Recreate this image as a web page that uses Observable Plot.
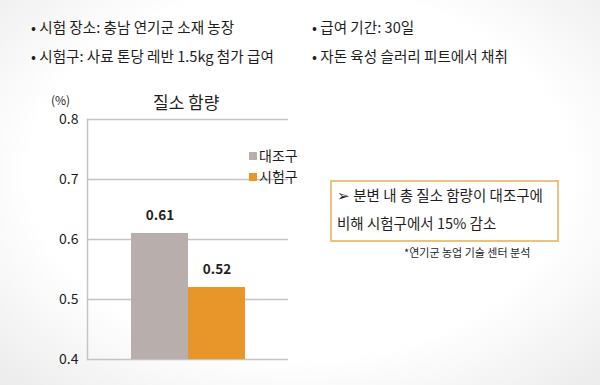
<!DOCTYPE html>
<html><head><meta charset="utf-8">
<script src="https://cdn.jsdelivr.net/npm/d3@7"></script>
<script src="https://cdn.jsdelivr.net/npm/@observablehq/plot@0.6"></script>
<style>
html,body{margin:0;padding:0;}
body{width:600px;height:385px;overflow:hidden;font-family:"Noto Sans CJK KR","Noto Sans",sans-serif;color:#1e1e1e;
background:radial-gradient(ellipse 75% 80% at 50% 45%, #ffffff 60%, #e9e9e9 100%);}
#wrap{position:relative;width:600px;height:385px;}
#chart{position:absolute;left:0;top:0;}
.t{position:absolute;white-space:nowrap;font-size:14px;line-height:1;}
#box{position:absolute;left:330px;top:180px;width:225px;height:58px;border:2px solid #ecc283;background:#fff;}
</style></head>
<body><div id="wrap"><div id="chart"></div></div>
<script>
const categories = ["대조구", "시험구"];
const values = [0.61, 0.52];
const colors = ["#b8aeac", "#e8952a"];
const yTicks = [0.4, 0.5, 0.6, 0.7, 0.8];
const notes = ["• 시험 장소: 충남 연기군 소재 농장", "• 시험구: 사료 톤당 레반 1.5kg 첨가 급여", "• 급여 기간: 30일", "• 자돈 육성 슬러리 피트에서 채취"];
const chartTitle = "질소 함량";
const unit = "(%)";
const boxLines = ["➢ 분변 내 총 질소 함량이 대조구에", "비해 시험구에서 15% 감소"];
const source = "*연기군 농업 기술 센터 분석";

const data = categories.map((c, i) => ({category: c, value: values[i]}));

const plot = Plot.plot({
  width: 600, height: 385,
  marginLeft: 87, marginRight: 312, marginTop: 119, marginBottom: 26,
  style: {background: "transparent", fontFamily: "'Noto Sans CJK KR', sans-serif"},
  x: {domain: categories, range: [130, 245], padding: 0, axis: null},
  y: {domain: [0.4, 0.8], ticks: yTicks, tickFormat: d3.format(".1f")},
  color: {domain: categories, range: colors},
  marks: [
    Plot.ruleY(yTicks, {stroke: "#c4c4c4", strokeWidth: 1.5}),
    Plot.frame({anchor: "left", stroke: "#c4c4c4", strokeWidth: 1.5}),
    Plot.barY(data, {x: "category", y1: 0.4, y2: "value", fill: "category", inset: 0}),
    Plot.text(data, {x: "category", y: "value", text: d => d3.format(".2f")(d.value), dy: -18, fontSize: 13.5, fontWeight: "bold", fill: "#1e1e1e"}),
    Plot.axisY({ticks: yTicks, tickSize: 0, tickPadding: 9, fontSize: 14, fill: "#1e1e1e", tickFormat: d3.format(".1f"), label: null})
  ]
});
document.getElementById("chart").appendChild(plot);

const wrap = document.getElementById("wrap");
function addText(txt, left, top, size, extra) {
  const d = document.createElement("div");
  d.className = "t";
  d.textContent = txt;
  d.style.left = left + "px"; d.style.top = top + "px"; d.style.fontSize = size + "px";
  if (extra) Object.assign(d.style, extra);
  wrap.appendChild(d);
  return d;
}
addText(notes[0], 31, 20, 14.6);
addText(notes[1], 31, 49, 14.6);
addText(notes[2], 312, 20, 14.6);
addText(notes[3], 312, 49, 14.6);
addText(chartTitle, 153, 93, 17);
addText(unit, 51, 94, 12);
// legend
categories.forEach((c, i) => {
  const sq = document.createElement("div");
  sq.style.cssText = `position:absolute;left:249px;top:${152 + i*21}px;width:8px;height:8px;background:${colors[i]};`;
  wrap.appendChild(sq);
  addText(c, 259, 148 + i*21, 14);
});
const box = document.createElement("div");
box.id = "box";
wrap.appendChild(box);
addText(boxLines[0], 337, 188, 14.5);
addText(boxLines[1], 337, 216, 14.5);
addText(source, 404, 247, 11);
</script></body></html>
